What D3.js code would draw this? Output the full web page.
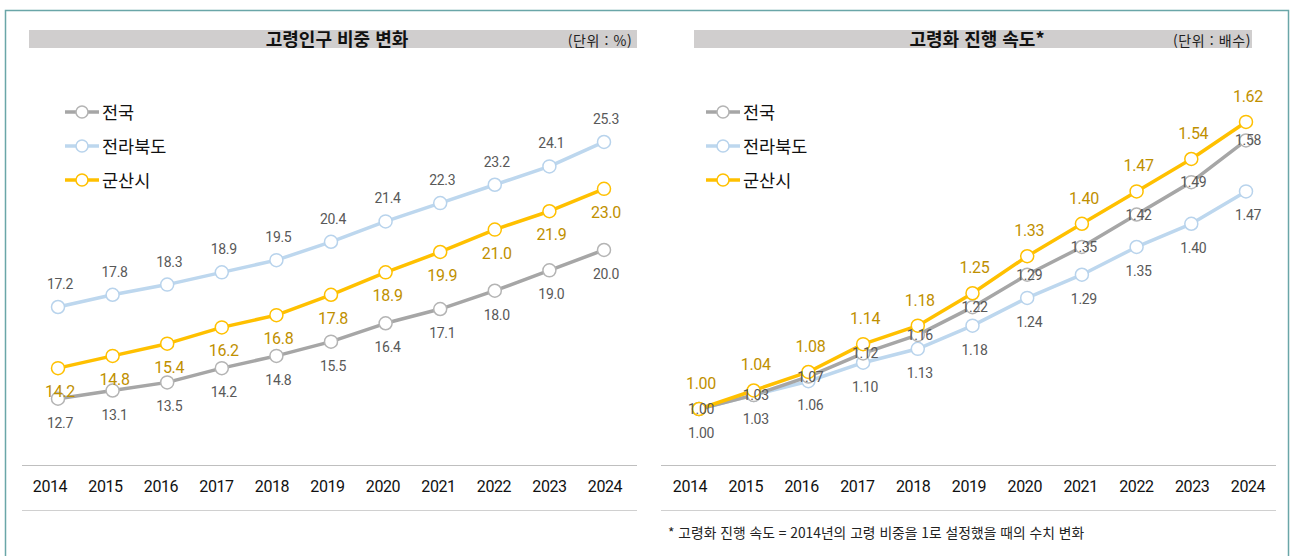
<!DOCTYPE html>
<html lang="ko">
<head>
<meta charset="UTF-8">
<script src="https://d3js.org/d3.v7.min.js"></script>
<style>
  body { margin: 0; background: #fff; }
  svg { display: block; }
  .num { font-family: "Roboto", sans-serif; font-size: 13px; }
  .kr { font-family: "Noto Sans CJK KR", sans-serif; }
</style>
</head>
<body>
<div id="chart"></div>
<script>
const years = [2014, 2015, 2016, 2017, 2018, 2019, 2020, 2021, 2022, 2023, 2024]
const seriesNames = ['전국', '전라북도', '군산시']

// 고령인구 비중 (%)
const shareNation  = [12.7, 13.1, 13.5, 14.2, 14.8, 15.5, 16.4, 17.1, 18.0, 19.0, 20.0]
const shareJeonbuk = [17.2, 17.8, 18.3, 18.9, 19.5, 20.4, 21.4, 22.3, 23.2, 24.1, 25.3]
const shareGunsan  = [14.2, 14.8, 15.4, 16.2, 16.8, 17.8, 18.9, 19.9, 21.0, 21.9, 23.0]

// 고령화 진행 속도 (배수)
const speedNation  = [1.00, 1.03, 1.07, 1.12, 1.16, 1.22, 1.29, 1.35, 1.42, 1.49, 1.58]
const speedJeonbuk = [1.00, 1.03, 1.06, 1.10, 1.13, 1.18, 1.24, 1.29, 1.35, 1.40, 1.47]
const speedGunsan  = [1.00, 1.04, 1.08, 1.14, 1.18, 1.25, 1.33, 1.40, 1.47, 1.54, 1.62]

const width = 1292, height = 556
const colors = { '전국': '#a6a6a6', '전라북도': '#bdd7ee', '군산시': '#ffc000' }
const dotStroke = { '전국': '#b4b4b4', '전라북도': '#b8d3ec', '군산시': '#ffc000' }
const labelColor = { '전국': '#595959', '전라북도': '#595959', '군산시': '#bf9000' }

const svg = d3.select('#chart').append('svg')
    .attr('width', width).attr('height', height)

// outer frame
svg.append('rect')
    .attr('x', 5.5).attr('y', 10.5)
    .attr('width', 1283).attr('height', 600)
    .attr('fill', 'none').attr('stroke', '#6aa6a8').attr('stroke-width', 1.5)

function panel(cfg) {
    const g = svg.append('g')

    // title bar
    g.append('rect')
        .attr('x', cfg.barX[0]).attr('y', 30)
        .attr('width', cfg.barX[1] - cfg.barX[0]).attr('height', 18)
        .attr('fill', '#d0cece')
    g.append('text').attr('class', 'kr')
        .attr('x', cfg.titleX).attr('y', 45.5)
        .attr('text-anchor', 'middle')
        .style('font-size', '18px').style('font-weight', 700).attr('fill', '#111')
        .text(cfg.title)
    g.append('text').attr('class', 'kr')
        .attr('x', cfg.unitX).attr('y', 46)
        .attr('text-anchor', 'middle')
        .style('font-size', '14px').style('letter-spacing', '0.6px').attr('fill', '#222')
        .text(cfg.unit)

    // axis lines
    g.append('line')
        .attr('x1', cfg.axisX[0]).attr('x2', cfg.axisX[1])
        .attr('y1', 465.5).attr('y2', 465.5)
        .attr('stroke', '#bfbfbf').attr('stroke-width', 1.2)
    g.append('line')
        .attr('x1', cfg.axisX[0]).attr('x2', cfg.axisX[1])
        .attr('y1', 510.5).attr('y2', 510.5)
        .attr('stroke', '#d0d0d0').attr('stroke-width', 1)

    const x = d3.scalePoint().domain(years).range(cfg.xRange)
    const xl = d3.scalePoint().domain(years).range(cfg.labelRange)
    const y = d3.scaleLinear().domain(cfg.yDomain).range(cfg.yRange)

    // year labels
    g.selectAll('.year').data(years).enter().append('text')
        .attr('class', 'num')
        .attr('x', d => xl(d)).attr('y', 492)
        .attr('text-anchor', 'middle')
        .style('font-size', '16px')
        .style('letter-spacing', '-0.4px').attr('fill', '#111')
        .text(d => d)

    const line = d3.line().x((d, i) => x(years[i])).y(d => y(d))

    cfg.order.forEach(name => {
        const vals = cfg.data[name]
        g.append('path')
            .attr('d', line(vals))
            .attr('fill', 'none')
            .attr('stroke', colors[name])
            .attr('stroke-width', 3.5)
            .attr('stroke-linejoin', 'round')
        g.selectAll(null).data(vals).enter().append('circle')
            .attr('cx', (d, i) => x(years[i]))
            .attr('cy', d => y(d))
            .attr('r', 6.5)
            .attr('fill', '#fff')
            .attr('stroke', dotStroke[name])
            .attr('stroke-width', 1.5)
    })

    cfg.order.forEach(name => {
        const vals = cfg.data[name]
        const gold = name === '군산시'
        g.selectAll(null).data(vals).enter().append('text')
            .attr('class', 'num')
            .attr('x', (d, i) => x(years[i]) + 2)
            .attr('y', d => y(d) + cfg.labelDy[name] + 5)
            .attr('text-anchor', 'middle')
            .style('font-size', gold ? '16px' : '14px')
            .style('letter-spacing', '-0.3px')
            .attr('fill', labelColor[name])
            .text(d => cfg.fmt(d))
    })

    // legend
    seriesNames.forEach((name, i) => {
        const ly = 112 + i * 34
        g.append('line')
            .attr('x1', cfg.legendX - 17).attr('x2', cfg.legendX + 17)
            .attr('y1', ly).attr('y2', ly)
            .attr('stroke', colors[name]).attr('stroke-width', 3.5)
        g.append('circle')
            .attr('cx', cfg.legendX).attr('cy', ly).attr('r', 6)
            .attr('fill', '#fff').attr('stroke', dotStroke[name]).attr('stroke-width', 1.5)
        g.append('text').attr('class', 'kr')
            .attr('x', cfg.legendX + 20).attr('y', ly + 6.5)
            .style('font-size', '17.5px').attr('fill', '#111')
            .text(name)
    })
}

panel({
    title: '고령인구 비중 변화', unit: '(단위 : %)',
    barX: [29, 637], titleX: 337, unitX: 600,
    axisX: [22, 637],
    xRange: [58, 604], labelRange: [50, 605],
    yDomain: [10, 26], yRange: [453.7, 127.7],
    data: { '전국': shareNation, '전라북도': shareJeonbuk, '군산시': shareGunsan },
    order: ['전라북도', '군산시', '전국'],
    labelDy: { '전국': 24, '전라북도': -23, '군산시': 24 },
    fmt: d3.format('.1f'),
    legendX: 82
})

panel({
    title: '고령화 진행 속도*', unit: '(단위 : 배수)',
    barX: [694, 1252], titleX: 977, unitX: 1212,
    axisX: [661, 1276],
    xRange: [699, 1246], labelRange: [690, 1248],
    yDomain: [0.9, 1.7], yRange: [455.3, 84.9],
    data: { '전국': speedNation, '전라북도': speedJeonbuk, '군산시': speedGunsan },
    order: ['전라북도', '전국', '군산시'],
    labelDy: { '전국': 0, '전라북도': 24, '군산시': -25 },
    fmt: d3.format('.2f'),
    legendX: 723
})

svg.append('text').attr('class', 'kr')
    .attr('x', 668).attr('y', 538)
    .style('font-size', '13.8px').attr('fill', '#222')
    .text('* 고령화 진행 속도 = 2014년의 고령 비중을 1로 설정했을 때의 수치 변화')
</script>
</body>
</html>
